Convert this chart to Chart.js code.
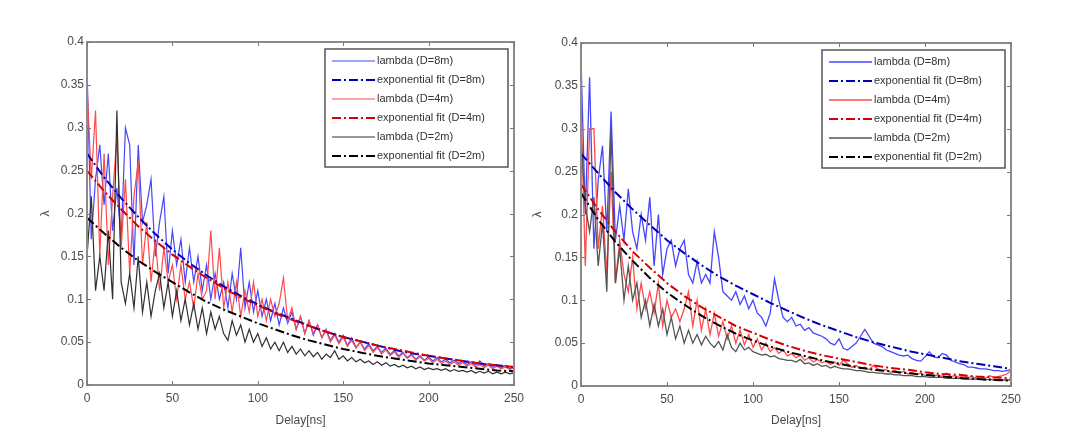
<!DOCTYPE html>
<html>
<head>
<meta charset="utf-8">
<script src="https://cdn.jsdelivr.net/npm/chart.js@4.4.0/dist/chart.umd.min.js"></script>
<style>
  html, body { margin: 0; padding: 0; background: #fff; }
  #wrap { position: relative; width: 1067px; height: 430px; }
  canvas { position: absolute; top: 0; }
  #left { left: 0; }
  #right { left: 530px; }
</style>
</head>
<body>
<div id="wrap">
  <canvas id="left" width="530" height="430"></canvas>
  <canvas id="right" width="537" height="430"></canvas>
</div>
<script>
// delay axis (ns)
const delays = [
  0, 2.5, 5, 7.5, 10, 12.5, 15, 17.5, 20, 22.5,
  25, 27.5, 30, 32.5, 35, 37.5, 40, 42.5, 45, 47.5,
  50, 52.5, 55, 57.5, 60, 62.5, 65, 67.5, 70, 72.5,
  75, 77.5, 80, 82.5, 85, 87.5, 90, 92.5, 95, 97.5,
  100, 102.5, 105, 107.5, 110, 112.5, 115, 117.5, 120, 122.5,
  125, 127.5, 130, 132.5, 135, 137.5, 140, 142.5, 145, 147.5,
  150, 152.5, 155, 157.5, 160, 162.5, 165, 167.5, 170, 172.5,
  175, 177.5, 180, 182.5, 185, 187.5, 190, 192.5, 195, 197.5,
  200, 202.5, 205, 207.5, 210, 212.5, 215, 217.5, 220, 222.5,
  225, 227.5, 230, 232.5, 235, 237.5, 240, 242.5, 245, 247.5,
  250
];
const fitDelays = [0, 10, 20, 30, 40, 50, 60, 70, 80, 90, 100, 110, 120, 130, 140, 150, 160, 170, 180, 190, 200, 210, 220, 230, 240, 250];

const xTicks = [0, 50, 100, 150, 200, 250];
const yTicks = [0, 0.05, 0.1, 0.15, 0.2, 0.25, 0.3, 0.35, 0.4];
const yTickLabels = ['0', '0.05', '0.1', '0.15', '0.2', '0.25', '0.3', '0.35', '0.4'];

// left panel
const leftLambda8 = [
  0.37, 0.17, 0.24, 0.28, 0.21, 0.27, 0.18, 0.23, 0.17, 0.30,
  0.28, 0.14, 0.28, 0.19, 0.21, 0.24, 0.15, 0.19, 0.22, 0.13,
  0.18, 0.14, 0.17, 0.12, 0.16, 0.12, 0.15, 0.11, 0.14, 0.10,
  0.13, 0.10, 0.12, 0.09, 0.13, 0.10, 0.16, 0.09, 0.12, 0.085,
  0.11, 0.08, 0.10, 0.075, 0.095, 0.07, 0.09, 0.072, 0.085, 0.065,
  0.08, 0.06, 0.075, 0.058, 0.07, 0.055, 0.065, 0.052, 0.06, 0.05,
  0.058, 0.046, 0.055, 0.044, 0.05, 0.042, 0.048, 0.04, 0.045, 0.038,
  0.043, 0.036, 0.04, 0.034, 0.038, 0.032, 0.036, 0.03, 0.034, 0.029,
  0.033, 0.028, 0.032, 0.027, 0.03, 0.026, 0.029, 0.025, 0.028, 0.024,
  0.027, 0.023, 0.028, 0.022, 0.025, 0.021, 0.024, 0.02, 0.023, 0.019,
  0.021
];
const leftFit8 = [0.27, 0.242, 0.218, 0.196, 0.176, 0.158, 0.142, 0.128, 0.115, 0.104, 0.094, 0.085, 0.077, 0.069, 0.062, 0.056, 0.051, 0.046, 0.041, 0.037, 0.034, 0.031, 0.028, 0.025, 0.023, 0.021];
const leftLambda4 = [
  0.35, 0.24, 0.32, 0.15, 0.27, 0.14, 0.22, 0.29, 0.16, 0.24,
  0.13, 0.22, 0.26, 0.14, 0.19, 0.12, 0.17, 0.11, 0.16, 0.12,
  0.14, 0.10, 0.14, 0.10, 0.12, 0.09, 0.13, 0.10, 0.11, 0.18,
  0.10, 0.16, 0.09, 0.12, 0.085, 0.12, 0.08, 0.11, 0.085, 0.12,
  0.08, 0.10, 0.075, 0.10, 0.08, 0.095, 0.125, 0.075, 0.09, 0.065,
  0.08, 0.06, 0.075, 0.06, 0.07, 0.055, 0.064, 0.05, 0.058, 0.048,
  0.056, 0.045, 0.052, 0.043, 0.05, 0.04, 0.046, 0.038, 0.044, 0.036,
  0.041, 0.034, 0.039, 0.032, 0.037, 0.031, 0.035, 0.029, 0.033, 0.028,
  0.031, 0.026, 0.03, 0.025, 0.028, 0.024, 0.027, 0.023, 0.026, 0.022,
  0.025, 0.021, 0.024, 0.02, 0.023, 0.019, 0.022, 0.019, 0.021, 0.018,
  0.02
];
const leftFit4 = [0.25, 0.226, 0.205, 0.185, 0.168, 0.152, 0.138, 0.125, 0.113, 0.102, 0.093, 0.084, 0.076, 0.069, 0.062, 0.056, 0.051, 0.046, 0.042, 0.038, 0.034, 0.031, 0.028, 0.025, 0.023, 0.021];
const leftLambda2 = [
  0.15, 0.22, 0.11, 0.15, 0.11, 0.18, 0.10, 0.32, 0.12, 0.095,
  0.13, 0.09, 0.15, 0.085, 0.12, 0.08, 0.11, 0.13, 0.09, 0.12,
  0.08, 0.11, 0.075, 0.10, 0.07, 0.095, 0.065, 0.09, 0.06, 0.085,
  0.065, 0.08, 0.06, 0.052, 0.075, 0.058, 0.07, 0.05, 0.065, 0.05,
  0.06, 0.045, 0.055, 0.042, 0.05, 0.04, 0.05, 0.038, 0.045, 0.036,
  0.042, 0.034, 0.04, 0.033, 0.038, 0.03, 0.036, 0.032, 0.04, 0.03,
  0.034, 0.028, 0.032, 0.027, 0.03, 0.026, 0.028, 0.024, 0.027, 0.023,
  0.026, 0.022, 0.024, 0.021, 0.023, 0.02, 0.022, 0.019, 0.021, 0.018,
  0.02, 0.018, 0.019, 0.017, 0.019, 0.016, 0.018, 0.016, 0.017, 0.015,
  0.017, 0.014, 0.016, 0.014, 0.016, 0.013, 0.015, 0.013, 0.015, 0.013,
  0.014
];
const leftFit2 = [0.195, 0.177, 0.160, 0.145, 0.132, 0.120, 0.108, 0.097, 0.088, 0.080, 0.072, 0.065, 0.058, 0.052, 0.047, 0.042, 0.038, 0.034, 0.031, 0.028, 0.025, 0.023, 0.021, 0.019, 0.017, 0.016];

// right panel
const rightLambda8 = [
  0.38, 0.20, 0.36, 0.16, 0.24, 0.28, 0.18, 0.32, 0.17, 0.21,
  0.17, 0.23, 0.18, 0.16, 0.20, 0.17, 0.22, 0.14, 0.20, 0.13,
  0.16, 0.17, 0.14, 0.16, 0.17, 0.13, 0.12, 0.145, 0.12, 0.13,
  0.12, 0.18, 0.15, 0.11, 0.105, 0.10, 0.11, 0.095, 0.105, 0.09,
  0.10, 0.085, 0.08, 0.07, 0.085, 0.125, 0.10, 0.08, 0.075, 0.08,
  0.07, 0.072, 0.065, 0.068, 0.062, 0.06, 0.058, 0.055, 0.05, 0.048,
  0.055, 0.044, 0.042, 0.046, 0.05, 0.058, 0.066, 0.058, 0.05, 0.048,
  0.046, 0.042, 0.04, 0.038, 0.036, 0.035, 0.036, 0.032, 0.03, 0.029,
  0.034, 0.04, 0.034, 0.033, 0.038, 0.036, 0.03, 0.028, 0.026, 0.025,
  0.022, 0.022, 0.021, 0.02, 0.02, 0.019, 0.018, 0.018, 0.017, 0.018,
  0.019
];
const rightFit8 = [0.271, 0.248, 0.226, 0.206, 0.188, 0.170, 0.155, 0.141, 0.128, 0.117, 0.107, 0.097, 0.088, 0.079, 0.071, 0.064, 0.057, 0.051, 0.046, 0.041, 0.037, 0.033, 0.029, 0.026, 0.023, 0.02];
const rightLambda4 = [
  0.33, 0.14, 0.30, 0.30, 0.16, 0.21, 0.13, 0.25, 0.12, 0.17,
  0.13, 0.11, 0.15, 0.09, 0.12, 0.09, 0.11, 0.085, 0.12, 0.07,
  0.10, 0.08, 0.09, 0.075, 0.09, 0.11, 0.07, 0.10, 0.065, 0.09,
  0.06, 0.085, 0.058, 0.075, 0.055, 0.07, 0.05, 0.065, 0.048, 0.06,
  0.045, 0.055, 0.042, 0.05, 0.04, 0.045, 0.038, 0.042, 0.035, 0.038,
  0.033, 0.036, 0.03, 0.033, 0.028, 0.031, 0.027, 0.029, 0.025, 0.028,
  0.024, 0.03, 0.026, 0.022, 0.024, 0.02, 0.022, 0.019, 0.024, 0.02,
  0.018, 0.019, 0.016, 0.018, 0.015, 0.017, 0.014, 0.016, 0.013, 0.015,
  0.012, 0.014, 0.012, 0.013, 0.011, 0.015, 0.011, 0.012, 0.01, 0.012,
  0.01, 0.011, 0.009, 0.011, 0.009, 0.012, 0.01, 0.011, 0.012, 0.014,
  0.018
];
const rightFit4 = [0.235, 0.206, 0.180, 0.157, 0.138, 0.120, 0.105, 0.092, 0.081, 0.070, 0.062, 0.054, 0.047, 0.041, 0.036, 0.032, 0.028, 0.024, 0.021, 0.019, 0.016, 0.014, 0.013, 0.011, 0.010, 0.009];
const rightLambda2 = [
  0.29, 0.21, 0.18, 0.22, 0.14, 0.19, 0.11, 0.30, 0.12, 0.16,
  0.10, 0.14, 0.10, 0.12, 0.08, 0.10, 0.07, 0.095, 0.07, 0.09,
  0.06, 0.08, 0.055, 0.07, 0.05, 0.065, 0.05, 0.06, 0.048, 0.058,
  0.05, 0.045, 0.052, 0.042, 0.06, 0.045, 0.04, 0.05, 0.042, 0.045,
  0.04, 0.038, 0.036, 0.037, 0.034, 0.035, 0.032, 0.031, 0.03, 0.03,
  0.028, 0.031, 0.026, 0.027, 0.024, 0.026, 0.023, 0.024, 0.021, 0.023,
  0.021, 0.02, 0.02, 0.019, 0.018, 0.018, 0.017, 0.016, 0.016, 0.015,
  0.015, 0.014, 0.014, 0.013, 0.013, 0.012, 0.012, 0.012, 0.011, 0.011,
  0.011, 0.01, 0.01, 0.01, 0.01, 0.009, 0.009, 0.009, 0.009, 0.008,
  0.008, 0.008, 0.008, 0.008, 0.007, 0.008, 0.007, 0.007, 0.007, 0.007,
  0.007
];
const rightFit2 = [0.225, 0.194, 0.168, 0.146, 0.126, 0.109, 0.095, 0.082, 0.071, 0.061, 0.053, 0.046, 0.040, 0.035, 0.030, 0.026, 0.022, 0.019, 0.017, 0.015, 0.013, 0.011, 0.0095, 0.0082, 0.0071, 0.0062];

const fontFam = '"Liberation Sans", Arial, sans-serif';
const txtColor = '#4a4a4a';
const dashDot = [9, 3, 2, 3];

// matlab style box, inward ticks and legend box
const framePlugin = {
  id: 'frame',
  afterDraw(chart) {
    const { ctx, chartArea: a, scales } = chart;
    const x = scales.x, y = scales.y;
    ctx.save();
    ctx.strokeStyle = '#8c8c8c';
    ctx.lineWidth = 2;
    ctx.strokeRect(a.left, a.top, a.right - a.left, a.bottom - a.top);
    ctx.lineWidth = 1;
    ctx.strokeStyle = '#777';
    ctx.beginPath();
    xTicks.forEach(v => {
      const px = Math.round(x.getPixelForValue(v)) + 0.5;
      ctx.moveTo(px, a.bottom); ctx.lineTo(px, a.bottom - 4);
      ctx.moveTo(px, a.top); ctx.lineTo(px, a.top + 4);
    });
    yTicks.forEach(v => {
      const py = Math.round(y.getPixelForValue(v)) + 0.5;
      ctx.moveTo(a.left, py); ctx.lineTo(a.left + 4, py);
      ctx.moveTo(a.right, py); ctx.lineTo(a.right - 4, py);
    });
    ctx.stroke();

    // legend
    const w = 183, h = 118;
    const bx = a.right - 6 - w, by = a.top + 7;
    ctx.fillStyle = '#fff';
    ctx.fillRect(bx, by, w, h);
    ctx.strokeStyle = '#555';
    ctx.lineWidth = 1.5;
    ctx.strokeRect(bx, by, w, h);
    ctx.font = '11px ' + fontFam;
    ctx.textBaseline = 'middle';
    ctx.textAlign = 'left';
    chart.data.datasets.forEach((ds, i) => {
      const cy = Math.round(by + 12 + i * 19);
      ctx.strokeStyle = ds.borderColor;
      ctx.lineWidth = Math.max(ds.borderWidth, 1.2);
      ctx.setLineDash(ds.borderDash || []);
      ctx.beginPath();
      ctx.moveTo(bx + 7, cy);
      ctx.lineTo(bx + 50, cy);
      ctx.stroke();
      ctx.setLineDash([]);
      ctx.fillStyle = '#333';
      ctx.fillText(ds.label, bx + 52, cy);
    });
    ctx.restore();
  }
};

function buildChart(id, series, lay) {
  const toXY = (xs, ys) => xs.map((t, i) => ({ x: t, y: ys[i] }));
  const datasets = [
    { label: 'lambda (D=8m)', data: toXY(delays, series.l8), borderColor: '#4646ff', borderWidth: lay.lw, order: 5 },
    { label: 'exponential fit (D=8m)', data: toXY(fitDelays, series.f8), borderColor: '#0000b4', borderWidth: 2, borderDash: dashDot, order: 2 },
    { label: 'lambda (D=4m)', data: toXY(delays, series.l4), borderColor: '#ff4a4a', borderWidth: lay.lw, order: 4 },
    { label: 'exponential fit (D=4m)', data: toXY(fitDelays, series.f4), borderColor: '#d40000', borderWidth: 2, borderDash: dashDot, order: 1 },
    { label: 'lambda (D=2m)', data: toXY(delays, series.l2), borderColor: lay.grey, borderWidth: lay.lw, order: 3 },
    { label: 'exponential fit (D=2m)', data: toXY(fitDelays, series.f2), borderColor: '#000', borderWidth: 2, borderDash: dashDot, order: 0 }
  ];
  const tickFont = { family: fontFam, size: 12 };
  return new Chart(document.getElementById(id), {
    type: 'line',
    data: { datasets: datasets },
    options: {
      responsive: false,
      animation: false,
      devicePixelRatio: 1,
      layout: { padding: { left: 0, right: lay.right, top: lay.top, bottom: 0 } },
      elements: { point: { radius: 0 }, line: { tension: 0, fill: false } },
      plugins: { legend: { display: false }, tooltip: { enabled: false } },
      scales: {
        x: {
          type: 'linear', min: 0, max: 250,
          afterBuildTicks: s => { s.ticks = xTicks.map(v => ({ value: v })); },
          afterFit: s => { s.height = 430 - lay.bottom; },
          grid: { display: false, drawTicks: false }, border: { display: false },
          ticks: { color: txtColor, font: tickFont, padding: 6, maxRotation: 0, autoSkip: false },
          title: { display: true, text: 'Delay[ns]', color: txtColor, font: tickFont, padding: { top: 0, bottom: 2 } }
        },
        y: {
          type: 'linear', min: 0, max: 0.4,
          afterBuildTicks: s => { s.ticks = yTicks.map(v => ({ value: v })); },
          afterFit: s => { s.width = lay.yw; },
          grid: { display: false, drawTicks: false }, border: { display: false },
          ticks: { color: txtColor, font: tickFont, padding: 3, autoSkip: false, callback: (v, i) => yTickLabels[i] },
          title: { display: true, text: 'λ', color: txtColor, font: tickFont, padding: { top: lay.tp, bottom: 0 } }
        }
      }
    },
    plugins: [framePlugin]
  });
}

buildChart('left',
  { l8: leftLambda8, f8: leftFit8, l4: leftLambda4, f4: leftFit4, l2: leftLambda2, f2: leftFit2 },
  { yw: 87, right: 15, top: 42, bottom: 385, tp: 38, lw: 1.2, grey: '#303030' });

buildChart('right',
  { l8: rightLambda8, f8: rightFit8, l4: rightLambda4, f4: rightFit4, l2: rightLambda2, f2: rightFit2 },
  { yw: 51, right: 56, top: 43, bottom: 386, tp: 0, lw: 1.3, grey: '#555' });
</script>
</body>
</html>
